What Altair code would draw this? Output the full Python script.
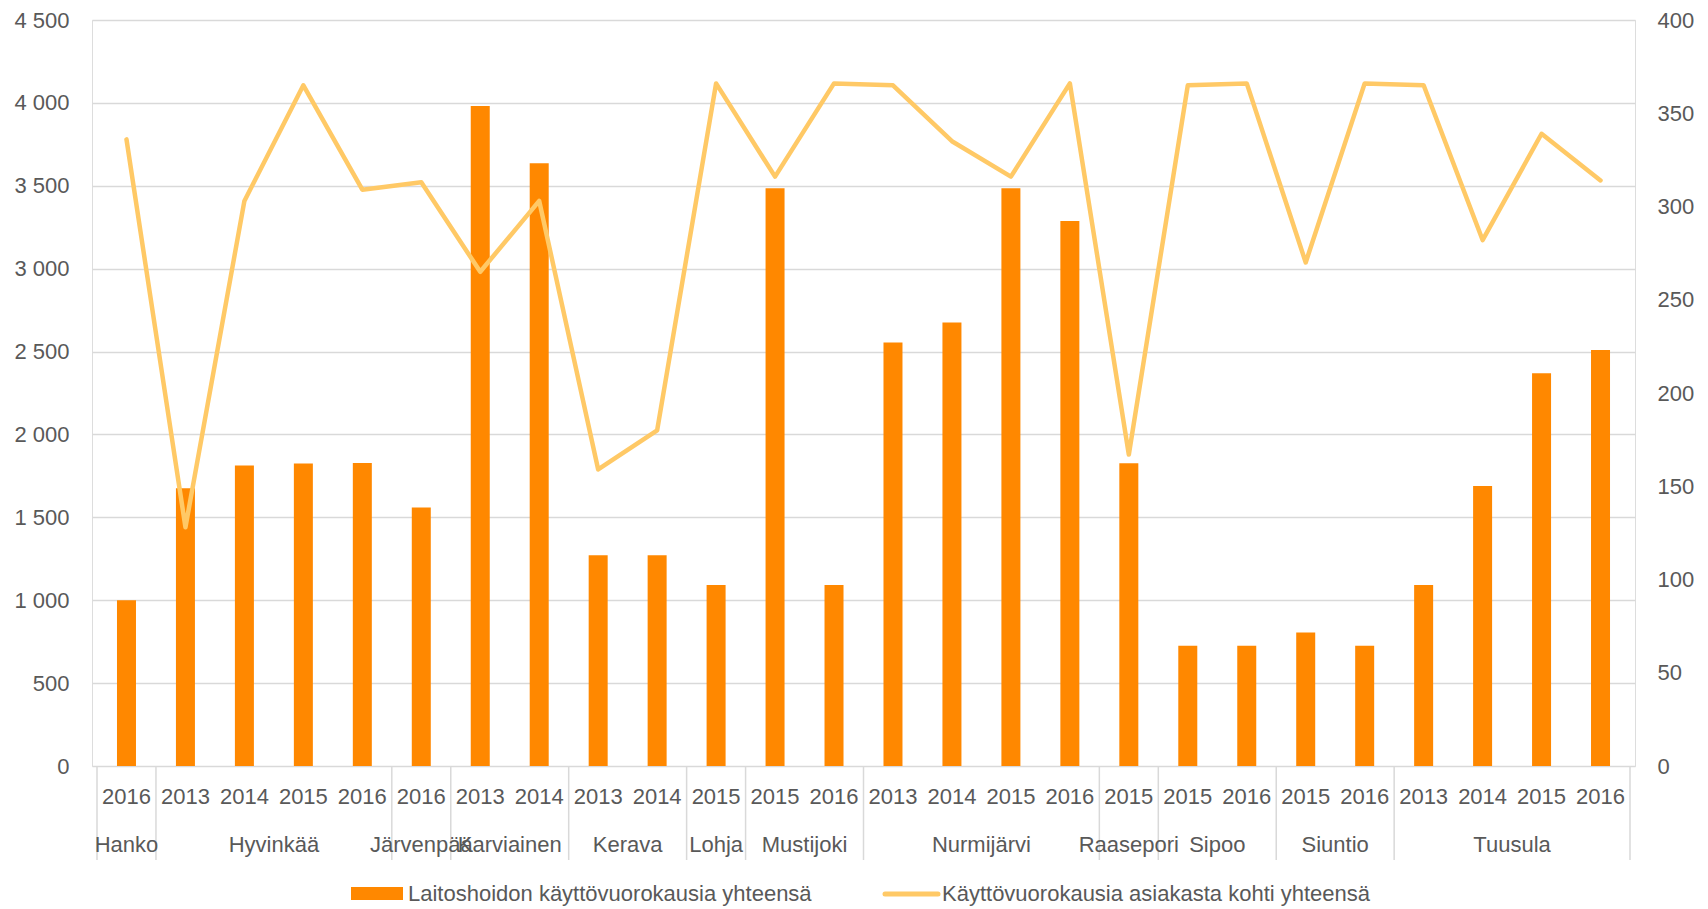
import altair as alt
import pandas as pd

# ---- data ----
group_names = ["Hanko", "Hyvinkää", "Järvenpää", "Karviainen", "Kerava", "Lohja",
               "Mustijoki", "Nurmijärvi", "Raasepori", "Sipoo", "Siuntio", "Tuusula"]
group_years = [[2016], [2013, 2014, 2015, 2016], [2016], [2013, 2014], [2013, 2014], [2015],
               [2015, 2016], [2013, 2014, 2015, 2016], [2015], [2015, 2016], [2015, 2016],
               [2013, 2014, 2015, 2016]]

care_days = [1000, 1675, 1812, 1824, 1828, 1560, 3981, 3636, 1271, 1271, 1092, 3485, 1092,
             2554, 2676, 3485, 3287, 1826, 726, 726, 806, 726, 1092, 1689, 2369, 2509]
days_per_client = [336, 128, 303, 365, 309, 313, 265, 303, 159, 180, 366, 316, 366,
                   365, 335, 316, 366, 167, 365, 366, 270, 366, 365, 282, 339, 314]

left_ticks = [0, 500, 1000, 1500, 2000, 2500, 3000, 3500, 4000, 4500]
right_ticks = [0, 50, 100, 150, 200, 250, 300, 350, 400]

series_bar = "Laitoshoidon käyttövuorokausia yhteensä"
series_line = "Käyttövuorokausia asiakasta kohti yhteensä"

# ---- tables ----
rows = []
groups = []
bounds = [0]
i = 0
for g, ys in zip(group_names, group_years):
    start = i
    for y in ys:
        rows.append({"pos": i + 0.5, "year": str(y), "kunta": g,
                     "days": care_days[i], "per_client": days_per_client[i]})
        i += 1
    groups.append({"kunta": g, "center": (start + i) / 2})
    bounds.append(i)
df = pd.DataFrame(rows)
gdf = pd.DataFrame(groups)
bdf = pd.DataFrame({"b": bounds})
n = len(df)

W, H = 1543, 746
FONT = "Liberation Sans"
TXT = "#595959"
GRID = "#d9d9d9"
BAR = "#FF8800"
LINE = "#FFC966"
LEG_Y = H + 128

xscale = alt.Scale(domain=[0, n], nice=False, zero=False)
X = alt.X("pos:Q", scale=xscale, axis=None)

bars = alt.Chart(df).mark_bar(size=19, color=BAR).encode(
    x=X,
    y=alt.Y("days:Q", scale=alt.Scale(domain=[0, 4500], nice=False),
            axis=alt.Axis(values=left_ticks, title=None, orient="left", grid=True,
                          gridColor=GRID, gridWidth=1.5, domain=False, ticks=False,
                          tickSize=0, labelPadding=23, labelFont=FONT, labelFontSize=22,
                          labelColor=TXT,
                          labelExpr="replace(format(datum.value, ',d'), ',', ' ')")),
)

line = alt.Chart(df).mark_line(color=LINE, strokeWidth=4.5, strokeJoin="round",
                               strokeCap="round").encode(
    x=X,
    y=alt.Y("per_client:Q", scale=alt.Scale(domain=[0, 400], nice=False),
            axis=alt.Axis(values=right_ticks, title=None, orient="right", grid=False,
                          domain=False, ticks=False, tickSize=0, labelPadding=22,
                          labelFont=FONT, labelFontSize=22, labelColor=TXT)),
)

year_text = alt.Chart(df).mark_text(font=FONT, fontSize=22, color=TXT,
                                    baseline="middle", align="center").encode(
    x=alt.X("pos:Q", scale=xscale, axis=None), y=alt.value(H + 31), text="year:N")

group_text = alt.Chart(gdf).mark_text(font=FONT, fontSize=22, color=TXT,
                                      baseline="middle", align="center").encode(
    x=alt.X("center:Q", scale=xscale, axis=None), y=alt.value(H + 79), text="kunta:N")

seps = alt.Chart(bdf).mark_rule(color=GRID, strokeWidth=1.5).encode(
    x=alt.X("b:Q", scale=xscale, axis=None), y=alt.value(H), y2=alt.value(H + 94))

# ---- legend (manual) ----
leg = pd.DataFrame({"label": [series_bar, series_line]})
leg_bar = alt.Chart(leg.iloc[[0]]).mark_rect(color=BAR).encode(
    x=alt.value(259), x2=alt.value(311), y=alt.value(LEG_Y - 7), y2=alt.value(LEG_Y + 6))
leg_bar_t = alt.Chart(leg.iloc[[0]]).mark_text(font=FONT, fontSize=22, color=TXT,
                                               align="left", baseline="middle").encode(
    x=alt.value(316), y=alt.value(LEG_Y), text="label:N")
leg_line = alt.Chart(leg.iloc[[1]]).mark_rule(color=LINE, strokeWidth=5,
                                              strokeCap="round").encode(
    x=alt.value(793), x2=alt.value(846), y=alt.value(LEG_Y))
leg_line_t = alt.Chart(leg.iloc[[1]]).mark_text(font=FONT, fontSize=22, color=TXT,
                                                align="left", baseline="middle").encode(
    x=alt.value(850), y=alt.value(LEG_Y), text="label:N")

chart = alt.layer(
    bars, line, seps, year_text, group_text, leg_bar, leg_bar_t, leg_line, leg_line_t
).resolve_scale(y="independent").properties(
    width=W, height=H,
    autosize=alt.AutoSizeParams(type="none"),
    padding={"left": 84, "top": 12, "right": 62, "bottom": 150},
).configure_view(stroke=None).configure(background="white")

chart.save("out.html", embed_options={"renderer": "svg", "actions": False})
